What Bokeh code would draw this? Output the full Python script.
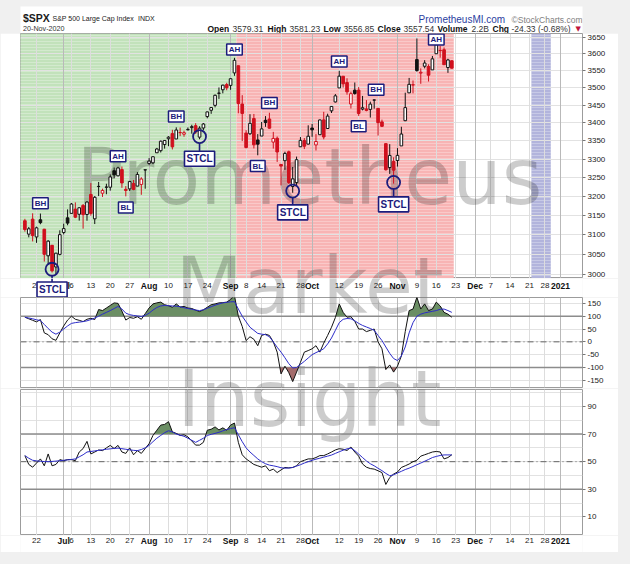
import math
from bokeh.plotting import figure
from bokeh.layouts import column
from bokeh.models import (Range1d, FixedTicker, NumeralTickFormatter, Label,
                          ColumnDataSource, Span, Grid)
from bokeh.core.properties import value
from bokeh.embed import file_html
from bokeh.resources import INLINE

# ---------------- data (trading-day index 0 = 17-Jun-2020 ... 110 = 20-Nov-2020) ----------------
OPEN = [3136.13, 3101.64, 3140.29, 3094.42, 3138.70, 3114.40, 3046.60, 3073.20, 3018.59, 3050.20,
        3105.92, 3143.64, 3155.29, 3166.44, 3153.07, 3176.17, 3152.47, 3205.08, 3141.11, 3225.98,
        3208.36, 3224.21, 3224.29, 3268.52, 3254.86, 3271.64, 3218.58, 3219.84, 3234.27, 3227.22,
        3231.76, 3270.45, 3288.26, 3289.92, 3317.37, 3323.17, 3340.05, 3356.04, 3370.34, 3355.46,
        3372.95, 3368.66, 3380.86, 3387.04, 3392.51, 3360.48, 3386.01, 3418.09, 3435.95, 3449.97,
        3485.14, 3494.69, 3509.73, 3507.44, 3543.76, 3564.74, 3453.60, 3371.88, 3369.82, 3412.56,
        3352.70, 3363.56, 3407.73, 3411.23, 3346.86, 3357.38, 3285.57, 3295.75, 3320.11, 3226.14,
        3236.66, 3333.90, 3350.92, 3341.21, 3385.87, 3338.94, 3367.27, 3408.74, 3384.56, 3434.28,
        3459.67, 3500.02, 3534.01, 3515.47, 3453.72, 3493.50, 3493.66, 3439.38, 3439.91, 3438.50,
        3464.90, 3441.42, 3403.15, 3342.48, 3277.17, 3293.59, 3296.20, 3336.25, 3406.46, 3485.74,
        3508.34, 3583.04, 3543.26, 3563.22, 3562.67, 3552.57, 3600.16, 3610.31, 3612.09, 3559.41,
        3579.31]
HIGH = [3141.16, 3120.00, 3155.53, 3120.92, 3154.90, 3115.01, 3086.25, 3073.73, 3053.89, 3111.51,
        3128.44, 3165.81, 3182.59, 3184.15, 3171.80, 3179.78, 3186.82, 3235.32, 3200.95, 3238.28,
        3220.39, 3233.52, 3258.61, 3277.29, 3279.32, 3279.99, 3227.26, 3241.43, 3243.72, 3264.74,
        3250.92, 3272.17, 3302.73, 3306.84, 3330.77, 3351.03, 3352.54, 3363.29, 3381.01, 3387.89,
        3387.24, 3378.51, 3387.59, 3395.06, 3399.54, 3390.80, 3399.96, 3432.09, 3444.21, 3481.07,
        3501.38, 3509.23, 3514.77, 3528.03, 3588.11, 3564.85, 3479.15, 3379.97, 3424.77, 3425.55,
        3368.95, 3402.93, 3419.48, 3428.92, 3375.17, 3362.27, 3285.57, 3320.31, 3323.35, 3278.70,
        3306.88, 3360.74, 3357.92, 3393.56, 3397.18, 3369.10, 3409.57, 3431.56, 3426.26, 3447.28,
        3482.34, 3549.85, 3534.01, 3527.94, 3489.08, 3515.76, 3502.42, 3476.93, 3464.86, 3460.53,
        3466.46, 3441.42, 3409.51, 3342.48, 3341.05, 3304.93, 3330.14, 3389.49, 3486.25, 3529.05,
        3521.58, 3645.99, 3557.22, 3581.16, 3569.02, 3593.66, 3628.51, 3623.11, 3619.09, 3585.22,
        3581.23]
LOW = [3108.03, 3093.51, 3083.11, 3079.39, 3127.12, 3032.13, 3024.01, 3004.63, 2999.74, 3047.83,
       3101.17, 3124.52, 3155.29, 3142.93, 3136.53, 3115.70, 3136.22, 3149.43, 3127.66, 3200.76,
       3198.59, 3205.65, 3215.16, 3247.77, 3253.10, 3222.66, 3200.05, 3214.25, 3216.17, 3227.22,
       3204.13, 3220.26, 3284.53, 3286.37, 3317.37, 3318.14, 3328.72, 3335.44, 3326.44, 3355.46,
       3363.35, 3361.64, 3379.22, 3370.15, 3369.66, 3354.69, 3379.31, 3413.13, 3425.84, 3444.15,
       3468.35, 3484.32, 3493.25, 3494.60, 3535.23, 3427.41, 3349.63, 3329.27, 3366.84, 3329.25,
       3310.47, 3363.56, 3389.25, 3384.45, 3328.82, 3292.40, 3229.10, 3270.95, 3232.57, 3209.45,
       3228.44, 3332.91, 3327.54, 3340.47, 3361.39, 3323.69, 3367.27, 3354.54, 3384.56, 3428.15,
       3458.07, 3499.61, 3500.86, 3480.55, 3440.89, 3480.45, 3419.93, 3435.65, 3433.06, 3415.34,
       3440.45, 3364.86, 3388.71, 3268.89, 3259.82, 3233.94, 3279.74, 3336.25, 3405.17, 3485.74,
       3484.34, 3547.48, 3511.91, 3557.00, 3518.58, 3552.57, 3600.16, 3588.68, 3567.33, 3543.84,
       3556.85]
CLOSE = [3113.49, 3115.34, 3097.74, 3117.86, 3131.29, 3050.33, 3083.76, 3009.05, 3053.24, 3100.29,
         3115.86, 3130.01, 3179.72, 3145.32, 3169.94, 3152.05, 3185.04, 3155.22, 3197.52, 3226.56,
         3215.57, 3224.73, 3251.84, 3257.30, 3276.02, 3235.66, 3215.63, 3239.41, 3218.44, 3258.44,
         3246.22, 3271.12, 3294.61, 3306.51, 3327.77, 3349.16, 3351.28, 3360.47, 3333.69, 3380.35,
         3373.43, 3372.85, 3381.99, 3389.78, 3374.85, 3385.51, 3397.16, 3431.28, 3443.62, 3478.73,
         3484.55, 3508.01, 3500.31, 3526.65, 3580.84, 3455.06, 3426.96, 3331.84, 3398.96, 3339.19,
         3340.97, 3383.54, 3401.20, 3385.49, 3357.01, 3319.47, 3281.06, 3315.57, 3236.92, 3246.59,
         3298.46, 3351.60, 3335.47, 3363.00, 3380.80, 3348.42, 3408.60, 3360.97, 3419.44, 3446.83,
         3477.14, 3534.22, 3511.93, 3488.67, 3483.34, 3483.81, 3426.92, 3443.12, 3435.56, 3453.49,
         3465.39, 3400.97, 3390.68, 3271.03, 3310.11, 3269.96, 3310.24, 3369.16, 3443.44, 3510.45,
         3509.44, 3550.50, 3545.53, 3572.66, 3537.01, 3585.15, 3626.91, 3609.53, 3567.79, 3581.87,
         3557.54]
PRIOR_CLOSE = 3124.74

CCI = [96, 90, 84, 78, 87, 35, 28, 12, 6, 35,
       62, 85, 100, 88, 84, 79, 88, 92, 87, 126,
       122, 132, 142, 152, 150, 120, 85, 95, 92, 98,
       88, 110, 132, 148, 152, 155, 145, 141, 135, 148,
       136, 138, 132, 130, 124, 118, 125, 135, 145, 148,
       152, 153, 155, 165, 180, 100, 60, 5, 20, 10,
       -15, 25, 30, 25, 0, -40, -125, -95, -120, -155,
       -118, -80, -40, -34, -27, -15, -40, -5, 25, 57,
       95, 148, 115, 96, 98, 80, 50, 50, 40, 45,
       50, 0, -27, -108, -90, -118, -95, -55, 40, 122,
       128, 174, 128, 148, 122, 128, 155, 140, 115, 108,
       96]
CCI_SIGNAL = [96, 93, 90, 86, 83, 68, 52, 38, 30, 38,
              50, 62, 72, 75, 77, 79, 82, 87, 93, 100,
              108, 115, 122, 130, 138, 128, 112, 106, 103, 101,
              99, 103, 112, 124, 134, 140, 142, 141, 140, 139,
              137, 133, 130, 127, 124, 122, 125, 131, 137, 143,
              148, 152, 154, 156, 157, 128, 100, 78, 57, 45,
              33, 30, 28, 20, 0, -21, -40, -62, -85, -102,
              -100, -88, -76, -63, -50, -42, -35, -27, -8, 15,
              45, 75, 88, 91, 90, 82, 72, 64, 58, 52,
              45, 25, 5, -20, -45, -65, -73, -55, -20, 35,
              75, 100, 108, 113, 116, 119, 122, 127, 128, 122,
              115]
RSI = [54.4, 48, 46, 49, 52, 47, 55.6, 47, 48, 51.5,
       50.7, 51.5, 51.5, 50.7, 57, 59.5, 64.7, 55.6, 57, 58.5,
       58, 60, 61.8, 59.5, 61.8, 57, 56, 60, 55, 58,
       56, 59.5, 63, 69, 72.8, 76.5, 77, 79, 71.6, 70.5,
       69, 69.5, 68, 65, 62, 62, 64, 72.8, 73.5, 75.2,
       73, 74.5, 72.8, 76.5, 78, 64, 55, 52, 50, 48,
       47, 46, 47, 43.4, 44.6, 42.1, 44, 45.8, 45.5, 45.8,
       47, 50, 51, 52, 52, 53, 54.4, 54.4, 55.6, 57,
       58.5, 59.4, 59, 58.1, 60.6, 57, 54, 48.3, 46, 45,
       44.6, 43.4, 42.1, 33.5, 38.5, 41, 42.5, 45.8, 47, 48.3,
       50, 51, 54, 55, 56, 57, 57.4, 57, 52, 53,
       55]
RSI_SIGNAL = [54.4, 52.5, 51, 50.6, 50.3, 50.1, 50, 50.2, 50.4, 50.7,
              51, 51.3, 51.6, 52, 53.5, 55, 57, 57.4, 57.8, 58.2,
              58.6, 59, 59.3, 59.6, 59.8, 59.4, 59, 58.6, 58.2, 58,
              58.8, 60, 61.8, 64.5, 67, 69, 71, 72.4, 71.6, 70,
              69.2, 68.4, 67, 65.5, 64, 65.5, 67, 69, 69.8, 70.5,
              71.3, 72.3, 73.3, 74, 74.6, 69.5, 64.5, 60, 57, 54.5,
              52, 50, 48.5, 47.5, 47, 46.4, 45.6, 45.3, 45.4, 45.8,
              46.8, 47.8, 49, 50, 51, 51.8, 52.5, 53.3, 54, 54.8,
              56, 57.2, 58.3, 59.3, 59.8, 58, 55.5, 53, 50.5, 48.5,
              47, 45.2, 43.5, 41.5, 39.8, 40.5, 41.8, 43, 44.3, 45.3,
              46.5, 47.8, 49, 50.3, 51.6, 53, 53.8, 54.5, 54.9, 54.9,
              54.9]

DAY_TICKS = [3, 12, 17, 22, 27, 37, 42, 47, 57, 61, 66, 71, 81, 86, 91, 101, 106, 111,
             120, 125, 130, 134]
DAY_LABELS = ["22", "6", "13", "20", "27", "10", "17", "24", "8", "14", "21", "28", "12",
              "19", "26", "9", "16", "23", "7", "14", "21", "28"]
MONTH_TICKS = [10, 32, 53, 74, 96, 116, 138]
MONTH_LABELS = ["Jul", "Aug", "Sep", "Oct", "Nov", "Dec", "2021"]

PRICE_TICKS = [3000, 3050, 3100, 3150, 3200, 3250, 3300, 3350, 3400, 3450, 3500, 3550, 3600, 3650]
CCI_TICKS = [-150, -100, -50, 0, 50, 100, 150]
CCI_LEVELS = [100, -100]
RSI_TICKS = [10, 30, 50, 70, 90]
RSI_GRID = [10, 20, 30, 40, 50, 60, 70, 80, 90, 100]
RSI_LEVELS = [70, 30]

ZONE_START = [-2, 54.5, 130.5]
ZONE_END = [54.5, 110.5, 135.5]
ZONE_COLOR = ["#c2e2bb", "#f8b4b4", "#b2b4dc"]

MARK_TEXT = ["BH", "AH", "BL", "BH", "AH", "BH", "BL", "AH", "BH", "BL", "AH"]
MARK_X = [4, 24, 26, 39, 54, 63, 60, 81, 90.5, 86, 106]
MARK_Y = [3182, 3308, 3171, 3418, 3613, 3457, 3281, 3577, 3495, 3391, 3643]
STCL_X = [7, 45, 69, 95]
STCL_LOW = [3013, 3362, 3214, 3237]
STCL_BOX = [2963, 3301, 3158, 3179]

TITLE = ("$SPX", "S&P 500 Large Cap Index", "INDX", "20-Nov-2020")
QUOTE = [("Open", "3579.31"), ("High", "3581.23"), ("Low", "3556.85"), ("Close", "3557.54"),
         ("Volume", "2.2B"), ("Chg", "-24.33 (-0.68%)")]

# ---------------- styling / layout ----------------
NAVY = "#1c1c7c"
RED = "#d0101e"
BLACK = "#111111"
BLUE = "#2c2cc8"
FONT = "Liberation Sans"
W = 618
LEFT, RIGHT = 20, 36
H0 = 33                       # header strip
H1 = 245                      # price panel (frame fills the height)
HS1 = 19                      # date strip under price panel
H2, T2, B2 = 91, 0, 1         # CCI
H3, T3, B3 = 147, 1, 0        # RSI
HS2 = 17                      # bottom date strip
XR = (-1.13, 143.67)
X_RANGE = Range1d(*XR)
PRICE_RANGE = (2990, 3661)
TOP1 = H0                     # page y of each figure
TOPS1 = H0 + H1
TOP2 = TOPS1 + HS1
TOP3 = TOP2 + H2
TOPS2 = TOP3 + H3


def sy_price(p):
    return TOP1 + H1 * math.log(PRICE_RANGE[1] / p) / math.log(PRICE_RANGE[1] / PRICE_RANGE[0])


def bare(height, x_range, y_range, left=0, right=0, top=0, bottom=0):
    f = figure(width=W, height=height, x_range=x_range, y_range=y_range,
               x_axis_location=None, y_axis_location=None, toolbar_location=None,
               output_backend="svg", title=None, min_border_left=left,
               min_border_right=right, min_border_top=top, min_border_bottom=bottom)
    f.xgrid.visible = False
    f.ygrid.visible = False
    f.outline_line_color = None
    f.background_fill_color = "white"
    f.border_fill_color = "white"
    return f


def panel(height, y_range, top, bottom, y_type="linear", ticks=None, grid=None):
    f = figure(width=W, height=height, x_range=X_RANGE, y_range=Range1d(*y_range),
               y_axis_type=y_type, x_axis_location=None, y_axis_location="right",
               toolbar_location=None, output_backend="svg", title=None,
               min_border_left=LEFT, min_border_right=RIGHT,
               min_border_top=top, min_border_bottom=bottom)
    f.outline_line_color = "#9c9c9c"
    f.background_fill_color = "white"
    f.border_fill_color = "white"
    f.xgrid.visible = False
    f.ygrid.visible = False
    ax = f.yaxis[0]
    ax.ticker = FixedTicker(ticks=ticks)
    ax.formatter = NumeralTickFormatter(format="0")
    ax.axis_line_color = None
    ax.major_tick_in = 0
    ax.major_tick_out = 3
    ax.major_tick_line_color = "#777777"
    ax.minor_tick_line_color = None
    ax.major_label_text_font = FONT
    ax.major_label_text_font_size = "8px"
    ax.major_label_text_color = "#222222"
    ax.major_label_standoff = 2
    f.add_layout(Grid(dimension=1, ticker=FixedTicker(ticks=grid or ticks),
                      grid_line_color="#e2e2e2"))
    f.add_layout(Grid(dimension=0, ticker=FixedTicker(ticks=DAY_TICKS), grid_line_color="#dddddd"))
    f.add_layout(Grid(dimension=0, ticker=FixedTicker(ticks=MONTH_TICKS), grid_line_color="#b9b9b9"))
    return f


def text(f, x, y, s, size, bold=False, color="#222222", align="left", font=FONT,
         alpha=1.0, level="annotation"):
    f.add_layout(Label(x=x, y=y, x_units="canvas", y_units="canvas", text=s,
                       text_font=font, text_font_size=size,
                       text_font_style="bold" if bold else "normal", text_alpha=alpha,
                       text_color=color, text_align=align, text_baseline="middle",
                       level=level))


def watermark(f, s, page_y, fig_top):
    text(f, 309, page_y - fig_top, s, "78px", color="black", align="center",
         font="DejaVu Sans", alpha=0.2, level="underlay")


def date_strip(height, label_y):
    s = bare(height, X_RANGE, Range1d(height, 0), left=LEFT, right=RIGHT)
    s.text(x=DAY_TICKS, y=label_y, text=DAY_LABELS, text_font=value(FONT),
           text_font_size=value("8px"), text_color="#222222", text_align="center",
           text_baseline="middle")
    s.text(x=MONTH_TICKS, y=label_y, text=MONTH_LABELS, text_font=value(FONT),
           text_font_size=value("8.5px"), text_font_style="bold", text_color="#111111",
           text_align="center", text_baseline="middle")
    return s


def beyond(xs, ys, level, above):
    px, py = [], []
    for i, (x, y) in enumerate(zip(xs, ys)):
        if i:
            a, b = ys[i - 1] - level, y - level
            if a * b < 0:
                t = a / (a - b)
                px.append(xs[i - 1] + t * (x - xs[i - 1]))
                py.append(level)
        px.append(x)
        py.append(max(y, level) if above else min(y, level))
    return px, py


BOX = dict(text_align="center", text_baseline="middle", text_font=FONT, text_font_style="bold",
           text_color=NAVY, background_fill_color="white", border_line_color=NAVY)

IDX = list(range(len(CLOSE)))

# ---------------- header strip ----------------
hdr = bare(H0, Range1d(0, 1), Range1d(0, 1), top=6)
hdr.border_fill_color = "#f0f0f0"
text(hdr, 22.5, 17, TITLE[0], "10.5px", bold=True, color="#1a1a1a")
text(hdr, 52, 17.8, TITLE[1], "7px", color="#222222")
text(hdr, 137.5, 18, TITLE[2], "7px", color="#222222")
text(hdr, 22.5, 28.3, TITLE[3], "7.2px", color="#333333")
text(hdr, 418, 19, "PrometheusMI.com", "10px", color="#2b3ea0")
text(hdr, 582, 19.5, "\u00a9StockCharts.com", "8.5px", color="#808080", align="right")
QX = [207, 232, 267, 289, 323, 343, 377, 403, 437, 471, 492, 511]
k = 0
for name, val in QUOTE:
    text(hdr, QX[k], 28.3, name, "8.5px", bold=True, color="#111111")
    text(hdr, QX[k + 1], 28.3, val, "8.5px", color="#333333")
    k += 2
text(hdr, 575, 28, "\u25bc", "7px", color="#c0143c", font="DejaVu Sans")

# ---------------- price panel ----------------
p1 = panel(H1, PRICE_RANGE, 0, 0, y_type="log", ticks=PRICE_TICKS)
p1.quad(left=ZONE_START, right=ZONE_END, bottom=PRICE_RANGE[0], top=PRICE_RANGE[1],
        fill_color=ZONE_COLOR, line_color=None, level="image",
        hatch_pattern="horizontal_line", hatch_color="white", hatch_alpha=0.35,
        hatch_scale=3, hatch_weight=0.8)
watermark(p1, "Prometheus", 176, TOP1)
watermark(p1, "Market", 285, TOP1)

prev = [PRIOR_CLOSE] + CLOSE[:-1]
col = [RED if c < pc else BLACK for c, pc in zip(CLOSE, prev)]
fill = [cl if c < o else "white" for cl, c, o in zip(col, CLOSE, OPEN)]
src = ColumnDataSource(dict(x=IDX, high=HIGH, low=LOW,
                            top=[max(o, c) for o, c in zip(OPEN, CLOSE)],
                            bottom=[min(o, c) for o, c in zip(OPEN, CLOSE)],
                            color=col, fill=fill))
p1.segment(x0="x", y0="low", x1="x", y1="high", line_color="color", line_width=1, source=src)
p1.vbar(x="x", width=0.68, top="top", bottom="bottom", fill_color="fill", line_color="color",
        line_width=1, source=src)

k_px = H1 / math.log(PRICE_RANGE[1] / PRICE_RANGE[0])
stem_top = [lo * math.exp(-6.5 / k_px) for lo in STCL_LOW]
p1.segment(x0=STCL_X, y0=stem_top, x1=STCL_X, y1=STCL_BOX, line_color=NAVY, line_width=1.6)
p1.scatter(STCL_X, STCL_LOW, marker="circle", size=13, fill_color=None, line_color=NAVY,
           line_width=1.8)
for t, x, y in zip(MARK_TEXT, MARK_X, MARK_Y):
    p1.add_layout(Label(x=x, y=y, text=t, text_font_size="8px", border_line_width=1.5,
                        padding=dict(x=2, y=1), **BOX))
for x, box in zip(STCL_X[1:], STCL_BOX[1:]):
    p1.add_layout(Label(x=x, y=box, text="STCL", text_font_size="10px", border_line_width=1.6,
                        padding=2, **BOX))

# ---------------- date strip under the price panel ----------------
s1 = date_strip(HS1, 285 - TOPS1)
watermark(s1, "Market", 285, TOPS1)
# the first STCL box sits in this strip, below the price frame
s1.segment(x0=STCL_X[0], y0=0, x1=STCL_X[0], y1=sy_price(STCL_BOX[0]) - TOPS1,
           line_color=NAVY, line_width=1.6)
s1.add_layout(Label(x=STCL_X[0], y=sy_price(STCL_BOX[0]) - TOPS1, text="STCL",
                    text_font_size="10px", border_line_width=1.6, padding=2, **BOX))

# ---------------- CCI panel ----------------
p2 = panel(H2, (-178, 173), T2, B2, ticks=CCI_TICKS)
watermark(p2, "Market", 285, TOP2)
watermark(p2, "Insight", 398, TOP2)
for lv in CCI_LEVELS:
    p2.add_layout(Span(location=lv, dimension="width", line_color="#8c8c8c", line_width=1.5,
                       level="underlay"))
p2.add_layout(Span(location=0, dimension="width", line_color="#666666", line_width=1,
                   line_dash="6 3 1 3", level="underlay"))
gx, gy = beyond(IDX, CCI, 100, True)
p2.varea(x=gx, y1=[100] * len(gx), y2=gy, fill_color="#6b8e64")
rx, ry = beyond(IDX, CCI, -100, False)
p2.varea(x=rx, y1=[-100] * len(rx), y2=ry, fill_color="#a36b6b")
p2.line(IDX, CCI, line_color=BLACK, line_width=1)
p2.line(IDX, CCI_SIGNAL, line_color=BLUE, line_width=1)

# ---------------- RSI panel ----------------
p3 = panel(H3, (-3.5, 102.3), T3, B3, ticks=RSI_TICKS, grid=RSI_GRID)
watermark(p3, "Insight", 398, TOP3)
for lv in RSI_LEVELS:
    p3.add_layout(Span(location=lv, dimension="width", line_color="#8c8c8c", line_width=1.5,
                       level="underlay"))
p3.add_layout(Span(location=50, dimension="width", line_color="#666666", line_width=1,
                   line_dash="6 3 1 3", level="underlay"))
hx, hy = beyond(IDX, RSI, 70, True)
p3.varea(x=hx, y1=[70] * len(hx), y2=hy, fill_color="#6b8e64")
p3.line(IDX, RSI, line_color=BLACK, line_width=1)
p3.line(IDX, RSI_SIGNAL, line_color=BLUE, line_width=1)

# ---------------- bottom date strip ----------------
s2 = date_strip(HS2, 540 - TOPS2)

layout = column(hdr, p1, s1, p2, p3, s2, spacing=0, width=630, height=564,
                styles={"background-color": "#f0f0f0"})
open("out.html", "w").write(file_html(layout, INLINE))
